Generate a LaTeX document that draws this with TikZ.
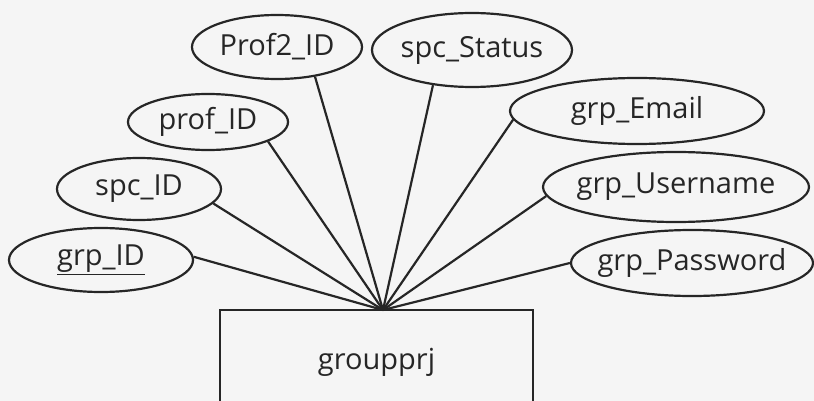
\documentclass[tikz,border=0pt]{standalone}
\usepackage{fontspec}
\setmainfont{Open Sans}
\usetikzlibrary{shapes.geometric}
\tikzset{attr/.style={ellipse, draw, inner sep=0pt, text=black!85, font=\fontsize{29}{32}\selectfont}, ent/.style={rectangle, draw, inner sep=0pt, text=black!85, font=\fontsize{29}{32}\selectfont}}
\newcommand\att[1]{\makebox[0pt]{#1}}

\begin{document}
\begin{tikzpicture}[x=1pt, y=-1pt, line width=2.2pt, draw=black!85]
  \fill[black!4] (0,0) rectangle (814,401);
  \clip (0,0) rectangle (814,401);
  \node[attr, minimum width=170, minimum height=64] (prof2) at (277,47) {\att{Prof2\_ID}};
  \node[attr, minimum width=200, minimum height=74] (status) at (472,50) {\att{spc\_Status}};
  \node[attr, minimum width=160, minimum height=56] (prof) at (208,122) {\att{prof\_ID}};
  \node[attr, minimum width=164, minimum height=62] (spc) at (139,189) {\att{spc\_ID}};
  \node[attr, minimum width=184, minimum height=64] (grp) at (101,260) {\att{\underline{grp\_ID}}};
  \node[attr, minimum width=254, minimum height=66] (email) at (637,111) {\att{grp\_Email}};
  \node[attr, minimum width=266, minimum height=70] (user) at (676,187) {\att{grp\_Username}};
  \node[attr, minimum width=242, minimum height=66] (pass) at (692,263) {\att{grp\_Password}};
  \node[ent, minimum width=313, minimum height=104] (prj) at (376.5,362) {groupprj};
  \coordinate (hub) at (383,310);
  \draw (grp.2) -- (hub);
  \draw (spc.-11) -- (hub);
  \draw (prof.-18) -- (hub);
  \draw (prof2.-38) -- (hub);
  \draw (status.222) -- (hub);
  \draw (email.184) -- (hub);
  \draw (user.184) -- (hub);
  \draw (pass.180) -- (hub);
\end{tikzpicture}
\end{document}
